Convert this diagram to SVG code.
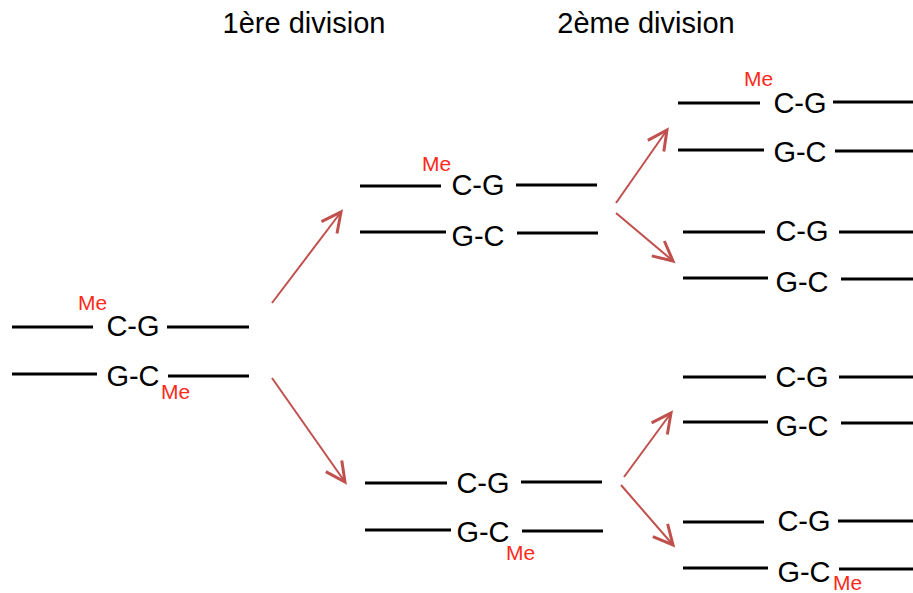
<svg xmlns="http://www.w3.org/2000/svg" width="913" height="593" viewBox="0 0 913 593">
<defs>
<marker id="ah" markerUnits="userSpaceOnUse" markerWidth="30" markerHeight="30" viewBox="-16 -10 20 20" refX="0" refY="0" orient="auto">
<path d="M-13,-6.5 L0,0 L-13,6.5" fill="none" stroke="#C0504D" stroke-width="2"/>
</marker>
<style>
.s{stroke:#000;stroke-width:3;fill:none}
.b{font-family:"Liberation Sans",Arial,sans-serif;font-size:29px;fill:#000;text-anchor:middle}
.t{font-family:"Liberation Sans",Arial,sans-serif;font-size:29px;fill:#000;text-anchor:middle}
.m{font-family:"Liberation Sans",Arial,sans-serif;font-size:21px;fill:#FF2A1A;text-anchor:middle}
.a{stroke:#C0504D;stroke-width:2;fill:none;marker-end:url(#ah)}
</style>
</defs>
<rect width="913" height="593" fill="#fff"/>
<g id="titles">
<text class="t" x="304" y="33">1ère division</text>
<text class="t" x="646" y="33">2ème division</text>
</g>
<g id="node-parent">
<path class="s" d="M12,327H93M167,327H249M12,374H97M168,376H249"/>
<text class="b" x="133" y="336">C-G</text>
<text class="b" x="133" y="386">G-C</text>
<text class="m" x="92.5" y="310">Me</text>
<text class="m" x="175.5" y="399">Me</text>
</g>
<g id="node-div1-top">
<path class="s" d="M360,186H441M516,185H597M360,232H446M517,233H598"/>
<text class="b" x="478" y="195">C-G</text>
<text class="b" x="478" y="246">G-C</text>
<text class="m" x="436.5" y="171">Me</text>
</g>
<g id="node-div1-bottom">
<path class="s" d="M365,483H447M521,482H602M365,530H451M522,531H603"/>
<text class="b" x="483" y="493">C-G</text>
<text class="b" x="483" y="542">G-C</text>
<text class="m" x="520.5" y="560">Me</text>
</g>
<g id="node-div2-1">
<path class="s" d="M678,103H760M833,102H913M678,150H764M835,151H913"/>
<text class="b" x="800" y="113">C-G</text>
<text class="b" x="800" y="162">G-C</text>
<text class="m" x="758.5" y="86">Me</text>
</g>
<g id="node-div2-2">
<path class="s" d="M683,232H765M839,232H913M683,278H768M841,279H913"/>
<text class="b" x="802" y="241">C-G</text>
<text class="b" x="802" y="292">G-C</text>
</g>
<g id="node-div2-3">
<path class="s" d="M683,377H766M839,377H913M683,422H768M841,423H913"/>
<text class="b" x="802" y="387">C-G</text>
<text class="b" x="802" y="436">G-C</text>
</g>
<g id="node-div2-4">
<path class="s" d="M683,522H764M838,521H913M683,568H768M839,569H913"/>
<text class="b" x="804" y="531">C-G</text>
<text class="b" x="804" y="582">G-C</text>
<text class="m" x="847.5" y="590">Me</text>
</g>
<g id="connectors">
<line class="a" x1="272" y1="303" x2="341" y2="212"/>
<line class="a" x1="272" y1="378" x2="345" y2="482"/>
<line class="a" x1="616" y1="203" x2="667" y2="130"/>
<line class="a" x1="616" y1="213" x2="673" y2="261"/>
<line class="a" x1="624" y1="477" x2="671" y2="413"/>
<line class="a" x1="621" y1="485" x2="673" y2="545"/>
</g>
</svg>
